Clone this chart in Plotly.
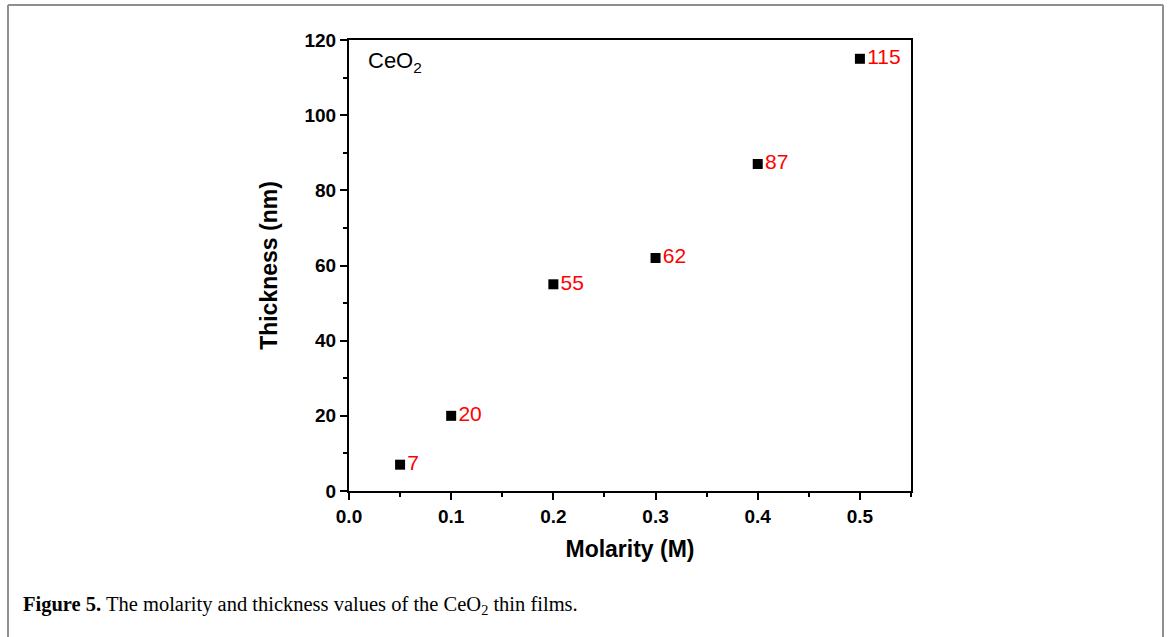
import plotly.graph_objects as go

molarity = [0.05, 0.1, 0.2, 0.3, 0.4, 0.5]
thickness = [7, 20, 55, 62, 87, 115]
labels = [str(v) for v in thickness]

W, H = 1170, 637
L, R, T, B = 349, 911, 40, 491
pw, ph = R - L, B - T

def px(x):
    return (x - L) / pw

def py(y):
    return (B - y) / ph

fig = go.Figure()
fig.add_trace(go.Scatter(
    x=molarity, y=thickness, mode="markers+text",
    marker=dict(symbol="square", size=10, color="black"),
    text=labels, textposition="middle right",
    textfont=dict(family="Liberation Sans", size=21, color="red"),
    cliponaxis=False, showlegend=False,
))

axis_common = dict(
    showgrid=False, zeroline=False, showline=True, linecolor="black", linewidth=2,
    mirror=True, ticks="outside", ticklen=7, tickwidth=2, tickcolor="black",
    tickfont=dict(family="Liberation Sans", size=19, color="black", weight="bold"),
)
fig.update_xaxes(
    range=[0, 0.55], dtick=0.1, tickformat=".1f",
    minor=dict(dtick=0.05, ticks="outside", ticklen=4, tickwidth=2, tickcolor="black"),
    title=dict(text="Molarity (M)", font=dict(family="Liberation Sans", size=23, color="black", weight="bold"), standoff=15),
    **axis_common,
)
fig.update_yaxes(
    range=[0, 120], dtick=20,
    minor=dict(dtick=10, ticks="outside", ticklen=4, tickwidth=2, tickcolor="black"),
    title=dict(text="Thickness (nm)", font=dict(family="Liberation Sans", size=23, color="black", weight="bold"), standoff=20),
    **axis_common,
)

shapes = []
gray = "#8f8f8f"
shapes.append(dict(type="line", xref="paper", yref="paper", x0=px(8), x1=px(8), y0=py(5), y1=py(H + 5), line=dict(color=gray, width=2)))
shapes.append(dict(type="line", xref="paper", yref="paper", x0=px(8), x1=px(1163), y0=py(5), y1=py(5), line=dict(color=gray, width=2)))
shapes.append(dict(type="line", xref="paper", yref="paper", x0=px(1163), x1=px(1163), y0=py(5), y1=py(H + 5), line=dict(color=gray, width=2)))

annotations = [
    dict(text="CeO<sub>2</sub>", xref="paper", yref="paper", x=px(366), y=py(62),
         xanchor="left", yanchor="middle", showarrow=False,
         font=dict(family="Liberation Sans", size=22, color="black")),
    dict(text="<b>Figure 5.</b> The molarity and thickness values of the CeO<sub>2</sub> thin films.",
         xref="paper", yref="paper", x=px(21), y=py(605), xanchor="left", yanchor="middle",
         showarrow=False, font=dict(family="Liberation Serif", size=20.5, color="black")),
]

fig.update_layout(
    width=W, height=H, margin=dict(l=L, r=W - R, t=T, b=H - B),
    paper_bgcolor="white", plot_bgcolor="white",
    shapes=shapes, annotations=annotations,
)
fig.write_html("out.html")
